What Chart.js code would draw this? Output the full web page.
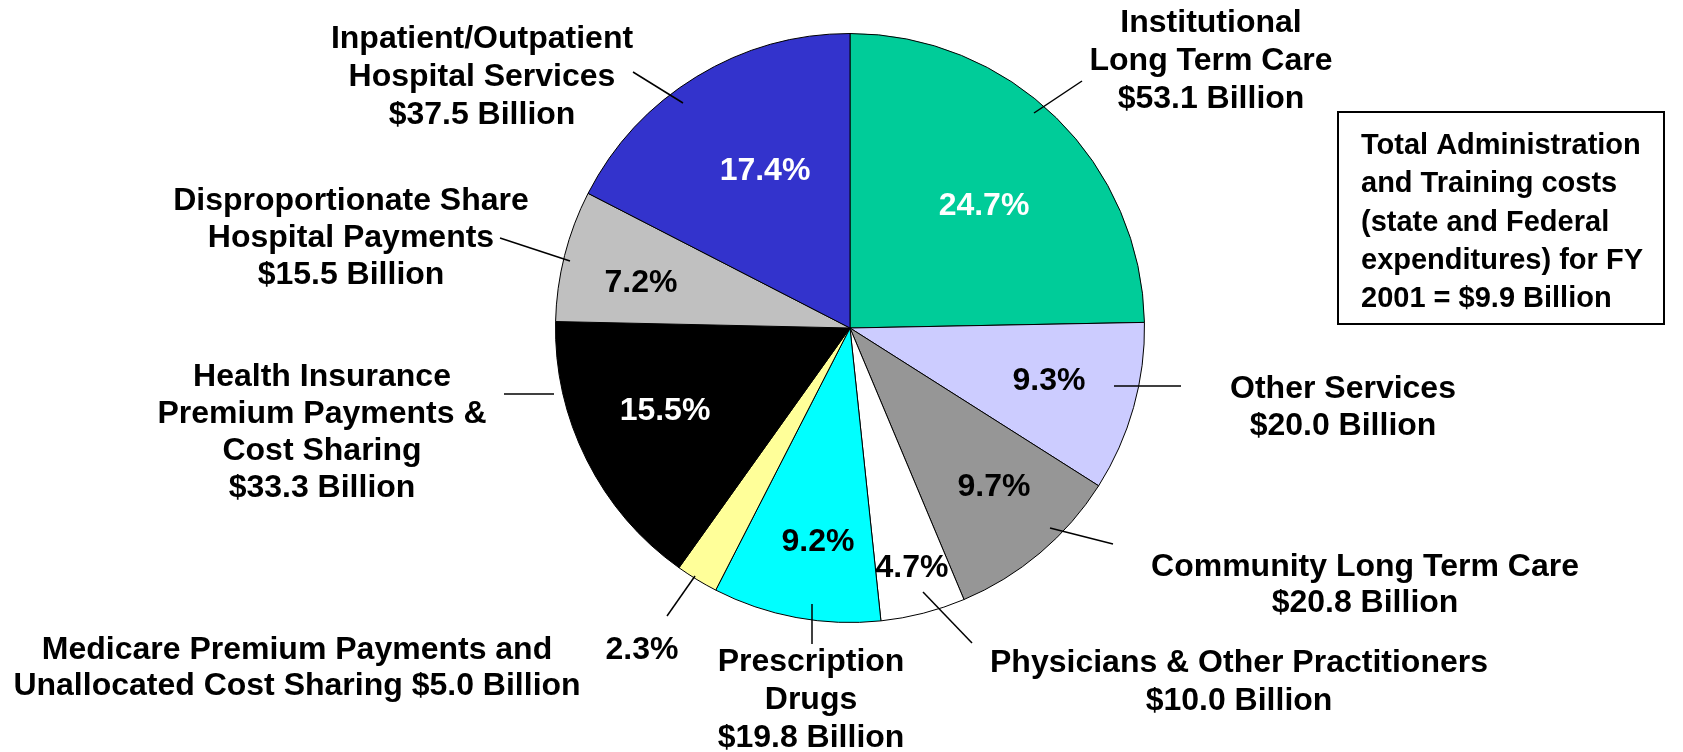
<!DOCTYPE html>
<html>
<head>
<meta charset="utf-8">
<script src="https://cdn.jsdelivr.net/npm/chart.js@4.4.1/dist/chart.umd.min.js"></script>
<style>
  html, body { margin: 0; padding: 0; background: #ffffff; }
  #wrap { width: 1683px; height: 752px; position: relative; }
  canvas { display: block; }
</style>
</head>
<body>
<div id="wrap"><canvas id="c" width="1683" height="752"></canvas></div>
<script>
// ---- Data ----
const categories = [
  "Institutional Long Term Care",
  "Other Services",
  "Community Long Term Care",
  "Physicians & Other Practitioners",
  "Prescription Drugs",
  "Medicare Premium Payments and Unallocated Cost Sharing",
  "Health Insurance Premium Payments & Cost Sharing",
  "Disproportionate Share Hospital Payments",
  "Inpatient/Outpatient Hospital Services"
];
const valuesBillion = [53.1, 20.0, 20.8, 10.0, 19.8, 5.0, 33.3, 15.5, 37.5];
// label text lines; {v} is replaced by the formatted value
const labelLines = [
  ["Institutional", "Long Term Care", "{v}"],
  ["Other Services", "{v}"],
  ["Community Long Term Care", "{v}"],
  ["Physicians & Other Practitioners", "{v}"],
  ["Prescription", "Drugs", "{v}"],
  ["Medicare Premium Payments and", "Unallocated Cost Sharing {v}"],
  ["Health Insurance", "Premium Payments &", "Cost Sharing", "{v}"],
  ["Disproportionate Share", "Hospital Payments", "{v}"],
  ["Inpatient/Outpatient", "Hospital Services", "{v}"]
];
const noteLines = [
  "Total Administration",
  "and Training costs",
  "(state and Federal",
  "expenditures) for FY",
  "2001 = $9.9 Billion"
];

// ---- Styles / layout (not data) ----
const sliceColors = ["#00CC99", "#CCCCFF", "#969696", "#FFFFFF", "#00FFFF", "#FFFF99", "#000000", "#C0C0C0", "#3333CC"];
const pctColors   = ["#FFFFFF", "#000000", "#000000", "#000000", "#000000", "#000000", "#FFFFFF", "#000000", "#FFFFFF"];
// offsets relative to pie centre
const pctOffsets = [[134,-122],[199,53],[144,159],[62,240],[-32,214],[-208,322],[-185,83],[-209,-45],[-85,-157]];
const labelCenters = [[361,-267],[493,80],[515,257],[389,354],[-39,372],[-553,340],[-528,105],[-499,-90],[-368,-251]];
const labelLineH = [38, 37, 36, 38, 38, 36, 37, 37, 38];
const leaders = [
  [[184,-215],[232,-247]],
  [[264,58],[331,58]],
  [[200,200],[263,216]],
  [[73,264],[122,315]],
  [[-38,276],[-38,316]],
  [[-155,248],[-183,288]],
  [[-296,66],[-346,66]],
  [[-280,-67],[-350,-90]],
  [[-167,-225],[-217,-256]]
];
const FONT = "bold 32px 'Liberation Sans', Arial, sans-serif";
const NOTE_FONT = "bold 29px 'Liberation Sans', Arial, sans-serif";

const total = valuesBillion.reduce((a, b) => a + b, 0);
const fmtVal = v => "$" + v.toFixed(1) + " Billion";
const fmtPct = v => (v / total * 100).toFixed(1) + "%";

const labelPlugin = {
  id: 'pieLabels',
  afterDraw(chart) {
    const ctx = chart.ctx;
    const arc = chart.getDatasetMeta(0).data[0];
    const cx = arc.x, cy = arc.y;
    ctx.save();
    // leader lines
    ctx.strokeStyle = "#000000";
    ctx.lineWidth = 1.5;
    leaders.forEach(l => {
      ctx.beginPath();
      ctx.moveTo(cx + l[0][0], cy + l[0][1]);
      ctx.lineTo(cx + l[1][0], cy + l[1][1]);
      ctx.stroke();
    });
    ctx.textAlign = "center";
    ctx.textBaseline = "middle";
    ctx.font = FONT;
    // percentages
    valuesBillion.forEach((v, i) => {
      ctx.fillStyle = pctColors[i];
      ctx.fillText(fmtPct(v), cx + pctOffsets[i][0], cy + pctOffsets[i][1]);
    });
    // category labels
    ctx.fillStyle = "#000000";
    valuesBillion.forEach((v, i) => {
      const lines = labelLines[i].map(s => s.replace("{v}", fmtVal(v)));
      const lh = labelLineH[i];
      const y0 = cy + labelCenters[i][1] - (lines.length - 1) * lh / 2;
      lines.forEach((s, k) => ctx.fillText(s, cx + labelCenters[i][0], y0 + k * lh));
    });
    // note box
    const bx = 1338, by = 112, bw = 326, bh = 212;
    ctx.lineWidth = 2;
    ctx.strokeRect(bx, by, bw, bh);
    ctx.font = NOTE_FONT;
    ctx.textAlign = "left";
    noteLines.forEach((s, k) => ctx.fillText(s, bx + 23, by + 34 + k * 38.3));
    ctx.restore();
  }
};

new Chart(document.getElementById('c'), {
  type: 'pie',
  data: {
    labels: categories,
    datasets: [{
      data: valuesBillion,
      backgroundColor: sliceColors,
      borderColor: "#000000",
      borderWidth: 1
    }]
  },
  options: {
    responsive: false,
    animation: false,
    layout: { padding: { left: 555, right: 538, top: 33, bottom: 129 } },
    plugins: { legend: { display: false }, tooltip: { enabled: false } }
  },
  plugins: [labelPlugin]
});
</script>
</body>
</html>
